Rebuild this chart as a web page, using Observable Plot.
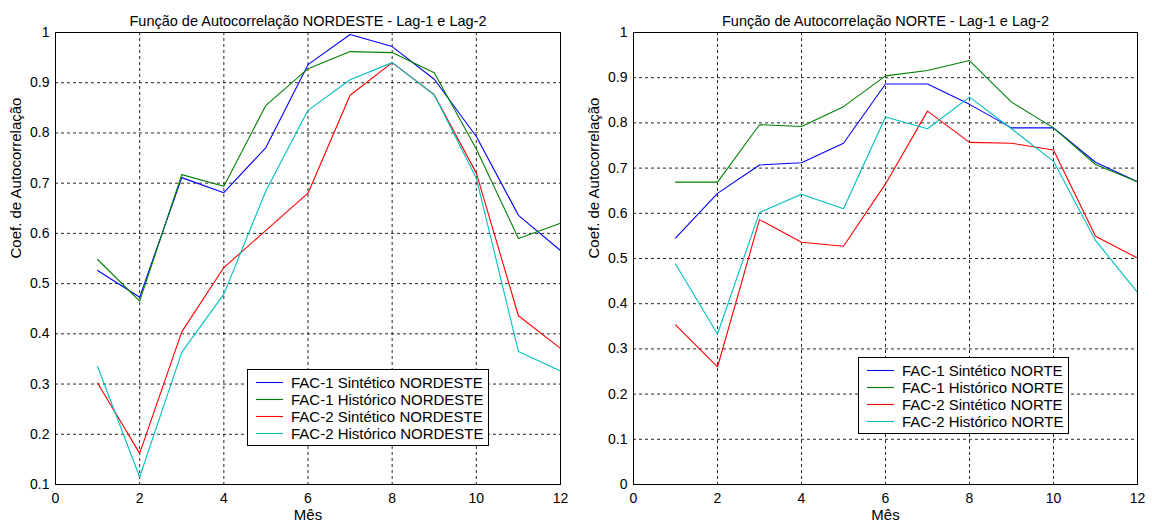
<!DOCTYPE html>
<html>
<head>
<meta charset="utf-8">
<script src="https://cdn.jsdelivr.net/npm/d3@7"></script>
<script src="https://cdn.jsdelivr.net/npm/@observablehq/plot@0.6"></script>
<style>
  html, body { margin: 0; padding: 0; background: #fff; }
  #wrap { position: relative; width: 1152px; height: 527px; display: flex; }
  .legend { position: absolute; background: #fff; border: 1px solid #000; box-sizing: border-box; }
  .legend svg { position: absolute; left: 0; top: 0; overflow: visible; }
</style>
</head>
<body>
<div id="wrap"></div>
<script>
// Months on the horizontal axis
const months = [1, 2, 3, 4, 5, 6, 7, 8, 9, 10, 11, 12];
const xTicks = [0, 2, 4, 6, 8, 10, 12];
const yTicksNordeste = [0.1, 0.2, 0.3, 0.4, 0.5, 0.6, 0.7, 0.8, 0.9, 1];
const yTicksNorte = [0, 0.1, 0.2, 0.3, 0.4, 0.5, 0.6, 0.7, 0.8, 0.9, 1];

// NORDESTE autocorrelation coefficients
const nordesteFac1Sint = [0.526, 0.473, 0.711, 0.681, 0.771, 0.936, 0.996, 0.972, 0.907, 0.793, 0.636, 0.566];
const nordesteFac1Hist = [0.548, 0.465, 0.717, 0.694, 0.855, 0.928, 0.962, 0.960, 0.920, 0.768, 0.590, 0.620];
const nordesteFac2Sint = [0.302, 0.162, 0.404, 0.532, 0.606, 0.680, 0.875, 0.940, 0.876, 0.720, 0.436, 0.371];
const nordesteFac2Hist = [0.335, 0.115, 0.363, 0.479, 0.685, 0.845, 0.906, 0.940, 0.876, 0.710, 0.365, 0.326];

// NORTE autocorrelation coefficients
const norteFac1Sint = [0.545, 0.644, 0.707, 0.712, 0.755, 0.886, 0.886, 0.841, 0.789, 0.789, 0.713, 0.670];
const norteFac1Hist = [0.669, 0.669, 0.796, 0.792, 0.836, 0.904, 0.916, 0.938, 0.846, 0.789, 0.708, 0.670];
const norteFac2Sint = [0.353, 0.260, 0.586, 0.536, 0.527, 0.665, 0.826, 0.757, 0.755, 0.740, 0.549, 0.501];
const norteFac2Hist = [0.488, 0.333, 0.602, 0.642, 0.610, 0.813, 0.787, 0.857, 0.787, 0.715, 0.540, 0.425];

const seriesColors = ["#0000ff", "#008000", "#ff0000", "#00bfbf"];
const nordesteNames = ["FAC-1 Sintético NORDESTE", "FAC-1 Histórico NORDESTE", "FAC-2 Sintético NORDESTE", "FAC-2 Histórico NORDESTE"];
const norteNames = ["FAC-1 Sintético NORTE", "FAC-1 Histórico NORTE", "FAC-2 Sintético NORTE", "FAC-2 Histórico NORTE"];

function toRows(names, arrays) {
  return names.flatMap((name, i) => arrays[i].map((v, j) => ({series: name, month: months[j], value: v})));
}

const font = "'Liberation Sans', Arial, sans-serif";

function panel({title, names, arrays, yDomain, yTicks, marginLeft, marginRight}) {
  const rows = toRows(names, arrays);
  const grid = {stroke: "#000", strokeOpacity: 0.85, strokeDasharray: "3,3", strokeWidth: 1};
  return Plot.plot({
    width: 576,
    height: 527,
    marginLeft, marginRight,
    marginTop: 32,
    marginBottom: 43,
    style: {fontFamily: font, fontSize: "14px", background: "#fff", color: "#000", overflow: "visible"},
    x: {domain: [0, 12], ticks: xTicks},
    y: {domain: yDomain, ticks: yTicks},
    color: {domain: names, range: seriesColors},
    marks: [
      Plot.gridX(xTicks.slice(1, -1), grid),
      Plot.gridY(yTicks.slice(1, -1), grid),
      Plot.line(rows, {x: "month", y: "value", z: "series", stroke: "series", strokeWidth: 1.1, curve: "linear"}),
      Plot.frame({stroke: "#000", strokeWidth: 1}),
      Plot.axisX(xTicks, {tickSize: 0, tickPadding: 9, fontSize: 14, label: null, tickFormat: d => String(d)}),
      Plot.axisY(yTicks, {tickSize: 0, tickPadding: 6, fontSize: 14, label: null, tickFormat: d => String(d)}),
      Plot.text([title], {frameAnchor: "top", dy: -17, fontSize: 14.5, fill: "#000"}),
      Plot.text(["Mês"], {frameAnchor: "bottom", dy: 35, fontSize: 15, fill: "#000"}),
      Plot.text(["Coef. de Autocorrelação"], {frameAnchor: "left", dx: -39, rotate: -90, fontSize: 15, fill: "#000"})
    ]
  });
}

const wrap = document.getElementById("wrap");
wrap.appendChild(panel({
  title: "Função de Autocorrelação NORDESTE - Lag-1 e Lag-2",
  names: nordesteNames,
  arrays: [nordesteFac1Sint, nordesteFac1Hist, nordesteFac2Sint, nordesteFac2Hist],
  yDomain: [0.1, 1], yTicks: yTicksNordeste, marginLeft: 55, marginRight: 16
}));
wrap.appendChild(panel({
  title: "Função de Autocorrelação NORTE - Lag-1 e Lag-2",
  names: norteNames,
  arrays: [norteFac1Sint, norteFac1Hist, norteFac2Sint, norteFac2Hist],
  yDomain: [0, 1], yTicks: yTicksNorte, marginLeft: 57, marginRight: 15
}));

// Boxed legends drawn over each panel
function legend(names, box) {
  const div = d3.select(wrap).append("div").attr("class", "legend")
    .style("left", box.left + "px").style("top", box.top + "px")
    .style("width", box.width + "px").style("height", box.height + "px");
  const svg = div.append("svg").attr("width", box.width).attr("height", box.height);
  names.forEach((name, i) => {
    const cy = Math.round(box.first + i * box.step) + 0.5;
    svg.append("line").attr("x1", 8).attr("x2", 35).attr("y1", cy).attr("y2", cy)
      .attr("stroke", seriesColors[i]).attr("stroke-width", 1.1);
    svg.append("text").attr("x", 43).attr("y", cy).attr("dy", "0.35em")
      .attr("font-family", font).attr("font-size", 15).attr("fill", "#000").text(name);
  });
}
legend(nordesteNames, {left: 247, top: 369, width: 242, height: 77, first: 11.5, step: 17.2});
legend(norteNames, {left: 858, top: 357, width: 211, height: 77, first: 11.5, step: 17.2});
</script>
</body>
</html>
